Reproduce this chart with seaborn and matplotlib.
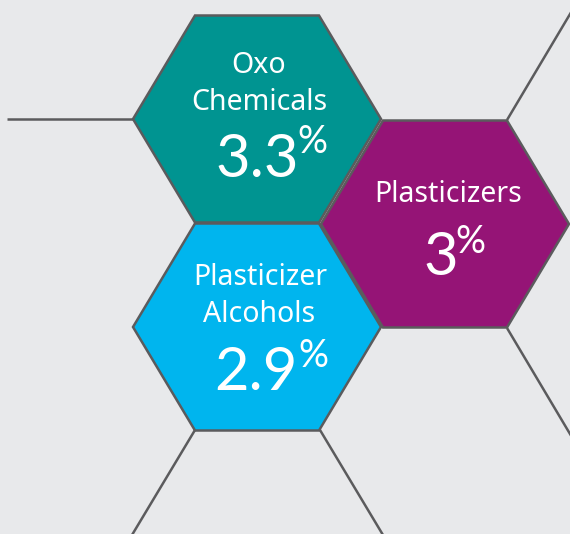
import matplotlib
matplotlib.use("Agg")
import matplotlib.pyplot as plt
import seaborn as sns
from matplotlib.patches import Polygon

# data
labels = ["Oxo\nChemicals", "Plasticizers", "Plasticizer\nAlcohols"]
values = ["3.3", "3", "2.9"]
colors = ["#009491", "#951476", "#00b5ee"]

sns.set_theme(style="white", rc={"axes.facecolor": "#e8e9eb", "figure.facecolor": "#e8e9eb"})
plt.rcParams["font.family"] = ["Lato", "DejaVu Sans"]

fig = plt.figure(figsize=(5.7, 5.34), dpi=100)
ax = fig.add_axes([0, 0, 1, 1])
ax.set_xlim(0, 570)
ax.set_ylim(534, 0)
ax.axis("off")

edge = "#5b5b5d"
rx, hy = 124, 103.5

def hexagon(cx, cy):
    return [(cx - rx / 2, cy - hy), (cx + rx / 2, cy - hy), (cx + rx, cy),
            (cx + rx / 2, cy + hy), (cx - rx / 2, cy + hy), (cx - rx, cy)]

# layout of the three cells
centers = [(257, 119), (445, 224), (257, 327)]

# honeycomb connector lines
conn = [((7, 119), (133, 119)),
        ((507, 120), (576, 4)),
        ((507, 328), (576, 444)),
        ((195, 430), (129, 540)),
        ((320, 430), (386, 540))]
for (x0, y0), (x1, y1) in conn:
    ax.plot([x0, x1], [y0, y1], color=edge, lw=1.8, solid_capstyle="butt")

for (cx, cy), c in zip(centers, colors):
    ax.add_patch(Polygon(hexagon(cx, cy), closed=True, facecolor=c,
                         edgecolor=edge, lw=1.8, joinstyle="miter"))

# text blocks: label line positions, number baseline, percent baseline
txt = [
    {"lines": [(259, 73), (259, 110)], "num": (215, 177), "pct": (297, 153)},
    {"lines": [(448, 202)], "num": (423, 275), "pct": (455, 253)},
    {"lines": [(260, 285), (259, 322)], "num": (214, 390), "pct": (298, 367)},
]
for lab, val, t in zip(labels, values, txt):
    for line, (x, y) in zip(lab.split("\n"), t["lines"]):
        ax.text(x, y, line, color="white", fontsize=20.5, ha="center", va="baseline",
                family=["Noto Sans", "DejaVu Sans"])
    ax.text(t["num"][0], t["num"][1], val, color="white", fontsize=43, ha="left", va="baseline")
    ax.text(t["pct"][0], t["pct"][1], "%", color="white", fontsize=27, ha="left", va="baseline")

fig.savefig("out.png", dpi=100, facecolor=fig.get_facecolor())
